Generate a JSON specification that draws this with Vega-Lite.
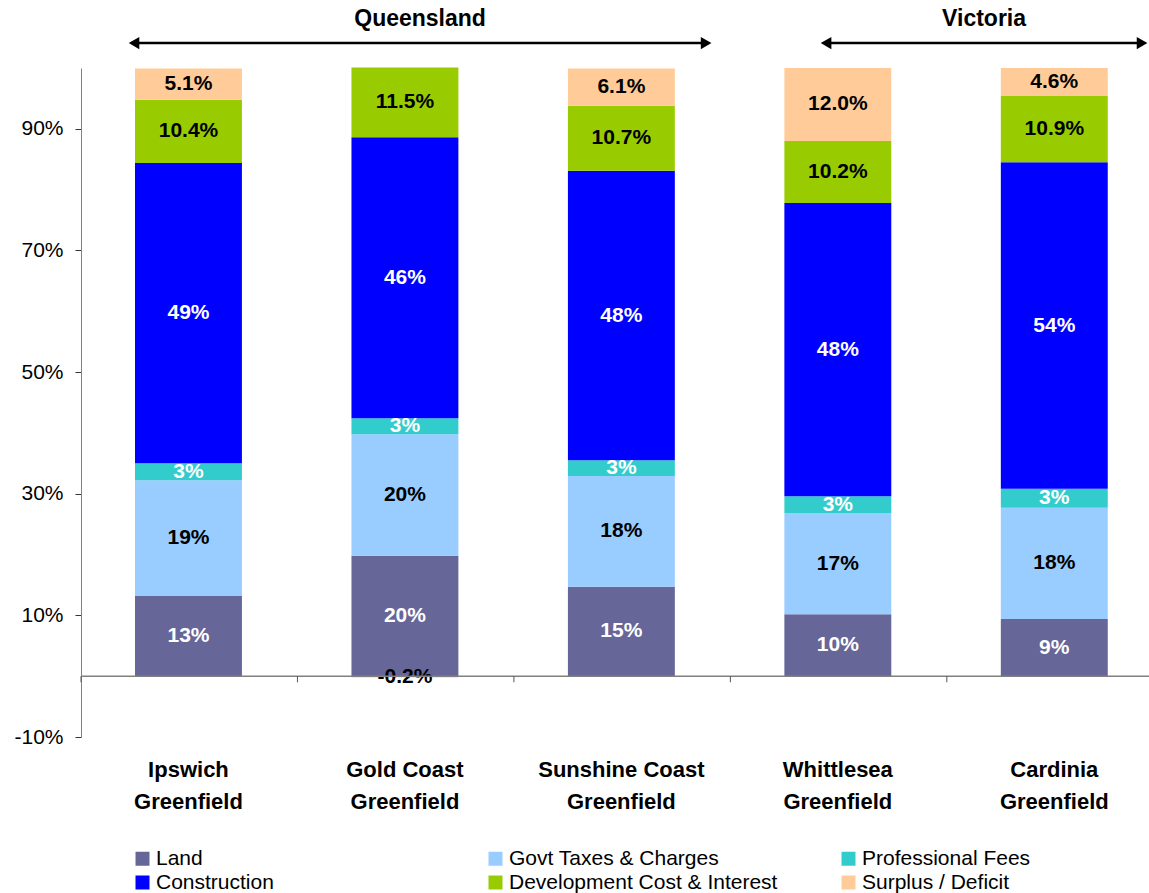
{
  "$schema": "https://vega.github.io/schema/vega-lite/v6.json",
  "width": 1068,
  "height": 669,
  "autosize": {"type": "none"},
  "padding": {"left": 81, "top": 68, "right": 0, "bottom": 156},
  "background": "white",
  "config": {
    "view": {"stroke": null},
    "font": "Liberation Sans",
    "text": {"font": "Liberation Sans"},
    "axis": {"labelFont": "Liberation Sans", "grid": false},
    "locale": {
      "number": {"decimal": ".", "thousands": ",", "grouping": [3], "currency": ["$", ""], "minus": "-"}
    }
  },
  "datasets": {
    "costs": [
      {"region": "Ipswich Greenfield", "component": "Land", "value": 0.132},
      {"region": "Ipswich Greenfield", "component": "Govt Taxes & Charges", "value": 0.190},
      {"region": "Ipswich Greenfield", "component": "Professional Fees", "value": 0.028},
      {"region": "Ipswich Greenfield", "component": "Construction", "value": 0.494},
      {"region": "Ipswich Greenfield", "component": "Development Cost & Interest", "value": 0.104},
      {"region": "Ipswich Greenfield", "component": "Surplus / Deficit", "value": 0.051},
      {"region": "Gold Coast Greenfield", "component": "Land", "value": 0.198},
      {"region": "Gold Coast Greenfield", "component": "Govt Taxes & Charges", "value": 0.200},
      {"region": "Gold Coast Greenfield", "component": "Professional Fees", "value": 0.026},
      {"region": "Gold Coast Greenfield", "component": "Construction", "value": 0.462},
      {"region": "Gold Coast Greenfield", "component": "Development Cost & Interest", "value": 0.115},
      {"region": "Gold Coast Greenfield", "component": "Surplus / Deficit", "value": -0.002},
      {"region": "Sunshine Coast Greenfield", "component": "Land", "value": 0.147},
      {"region": "Sunshine Coast Greenfield", "component": "Govt Taxes & Charges", "value": 0.182},
      {"region": "Sunshine Coast Greenfield", "component": "Professional Fees", "value": 0.026},
      {"region": "Sunshine Coast Greenfield", "component": "Construction", "value": 0.476},
      {"region": "Sunshine Coast Greenfield", "component": "Development Cost & Interest", "value": 0.107},
      {"region": "Sunshine Coast Greenfield", "component": "Surplus / Deficit", "value": 0.061},
      {"region": "Whittlesea Greenfield", "component": "Land", "value": 0.102},
      {"region": "Whittlesea Greenfield", "component": "Govt Taxes & Charges", "value": 0.166},
      {"region": "Whittlesea Greenfield", "component": "Professional Fees", "value": 0.028},
      {"region": "Whittlesea Greenfield", "component": "Construction", "value": 0.482},
      {"region": "Whittlesea Greenfield", "component": "Development Cost & Interest", "value": 0.102},
      {"region": "Whittlesea Greenfield", "component": "Surplus / Deficit", "value": 0.120},
      {"region": "Cardinia Greenfield", "component": "Land", "value": 0.094},
      {"region": "Cardinia Greenfield", "component": "Govt Taxes & Charges", "value": 0.183},
      {"region": "Cardinia Greenfield", "component": "Professional Fees", "value": 0.031},
      {"region": "Cardinia Greenfield", "component": "Construction", "value": 0.537},
      {"region": "Cardinia Greenfield", "component": "Development Cost & Interest", "value": 0.109},
      {"region": "Cardinia Greenfield", "component": "Surplus / Deficit", "value": 0.046}
    ],
    "states": [
      {"state": "Queensland", "from": 0.245, "to": 2.888},
      {"state": "Victoria", "from": 3.442, "to": 4.902}
    ],
    "breaks": [{"pos": 0}, {"pos": 1}, {"pos": 2}, {"pos": 3}, {"pos": 4}]
  },
  "layer": [
    {
      "data": {"name": "costs"},
      "transform": [
        {"calculate": "indexof(['Land','Govt Taxes & Charges','Professional Fees','Construction','Development Cost & Interest','Surplus / Deficit'], datum.component)", "as": "rank"},
        {"stack": "value", "groupby": ["region"], "sort": [{"field": "rank", "order": "ascending"}], "as": ["v0", "v1"]},
        {"calculate": "(datum.v0 + datum.v1) / 2", "as": "mid"}
      ],
      "encoding": {
        "x": {
          "field": "region",
          "type": "nominal",
          "sort": null,
          "title": null,
          "scale": {"paddingInner": 0.506, "paddingOuter": 0.22, "align": 0.567, "round": false},
          "axis": {
            "orient": "bottom",
            "domain": false,
            "ticks": false,
            "labelAngle": 0,
            "labelFontSize": 22,
            "labelFontWeight": "bold",
            "labelColor": "black",
            "labelPadding": 22,
            "labelLineHeight": 32,
            "labelLimit": 400,
            "labelExpr": "[replace(datum.label, ' Greenfield', ''), 'Greenfield']"
          }
        }
      },
      "layer": [
        {
          "mark": {"type": "bar"},
          "encoding": {
            "y": {
              "field": "v0",
              "type": "quantitative",
              "title": null,
              "scale": {"domain": [-0.1, 1.0], "nice": false, "zero": false},
              "axis": {
                "values": [-0.1, 0.1, 0.3, 0.5, 0.7, 0.9],
                "format": ".0%",
                "domainColor": "#808080",
                "domainWidth": 1,
                "tickColor": "#333333",
                "tickSize": 6,
                "labelFontSize": 21,
                "labelColor": "black",
                "labelPadding": 12
              }
            },
            "y2": {"field": "v1"},
            "color": {
              "field": "component",
              "type": "nominal",
              "scale": {
                "domain": ["Land", "Govt Taxes & Charges", "Professional Fees", "Construction", "Development Cost & Interest", "Surplus / Deficit"],
                "range": ["#666699", "#99CCFF", "#33CCCC", "#0000FF", "#99CC00", "#FFCC99"]
              },
              "legend": {
                "orient": "none",
                "legendX": 51,
                "legendY": 780,
                "direction": "horizontal",
                "columns": 3,
                "title": null,
                "symbolType": "square",
                "symbolSize": 196,
                "symbolStrokeWidth": 0,
                "symbolOpacity": 1,
                "labelFontSize": 21,
                "labelColor": "black",
                "labelOffset": 3,
                "columnPadding": 60,
                "rowPadding": 2,
                "gridAlign": "all",
                "labelLimit": 400
              }
            }
          }
        },
        {
          "transform": [{"filter": "datum.rank <= 3"}],
          "mark": {"type": "text", "fontSize": 21, "fontWeight": "bold", "baseline": "middle", "align": "center"},
          "encoding": {
            "y": {"field": "mid", "type": "quantitative", "scale": {"domain": [-0.1, 1.0], "nice": false, "zero": false}},
            "text": {"field": "value", "type": "quantitative", "format": ".0%"},
            "color": {"condition": {"test": "datum.component !== 'Govt Taxes & Charges'", "value": "white"}, "value": "black"}
          }
        },
        {
          "transform": [{"filter": "datum.rank > 3"}],
          "mark": {"type": "text", "fontSize": 21, "fontWeight": "bold", "baseline": "middle", "align": "center", "color": "black"},
          "encoding": {
            "y": {"field": "mid", "type": "quantitative", "scale": {"domain": [-0.1, 1.0], "nice": false, "zero": false}},
            "text": {"field": "value", "type": "quantitative", "format": ".1%"}
          }
        }
      ]
    },
    {
      "data": {"values": [{}]},
      "mark": {"type": "rule", "color": "#808080", "strokeWidth": 1.5},
      "encoding": {
        "y": {"datum": 0, "type": "quantitative", "scale": {"domain": [-0.1, 1.0], "nice": false, "zero": false}}
      }
    },
    {
      "data": {"name": "breaks"},
      "mark": {"type": "rule", "color": "#555555", "strokeWidth": 1},
      "encoding": {
        "x": {"field": "pos", "type": "quantitative", "scale": {"domain": [0, 4.934], "nice": false, "zero": false}, "axis": null},
        "y": {"datum": 0, "type": "quantitative", "scale": {"domain": [-0.1, 1.0], "nice": false, "zero": false}},
        "y2": {"datum": -0.01}
      }
    },
    {
      "data": {"name": "states"},
      "mark": {"type": "rule", "color": "black", "strokeWidth": 2.5},
      "encoding": {
        "x": {"field": "from", "type": "quantitative", "scale": {"domain": [0, 4.934], "nice": false, "zero": false}, "axis": null},
        "x2": {"field": "to"},
        "y": {"datum": 1.041, "type": "quantitative", "scale": {"domain": [-0.1, 1.0], "nice": false, "zero": false}}
      }
    },
    {
      "data": {"name": "states"},
      "mark": {"type": "point", "shape": "triangle-left", "filled": true, "color": "black", "opacity": 1, "size": 150},
      "encoding": {
        "x": {"field": "from", "type": "quantitative", "scale": {"domain": [0, 4.934], "nice": false, "zero": false}, "axis": null},
        "y": {"datum": 1.041, "type": "quantitative", "scale": {"domain": [-0.1, 1.0], "nice": false, "zero": false}}
      }
    },
    {
      "data": {"name": "states"},
      "mark": {"type": "point", "shape": "triangle-right", "filled": true, "color": "black", "opacity": 1, "size": 150},
      "encoding": {
        "x": {"field": "to", "type": "quantitative", "scale": {"domain": [0, 4.934], "nice": false, "zero": false}, "axis": null},
        "y": {"datum": 1.041, "type": "quantitative", "scale": {"domain": [-0.1, 1.0], "nice": false, "zero": false}}
      }
    },
    {
      "data": {"name": "states"},
      "transform": [{"calculate": "(datum.from + datum.to) / 2", "as": "centre"}],
      "mark": {"type": "text", "fontSize": 23, "fontWeight": "bold", "color": "black", "align": "center", "baseline": "middle"},
      "encoding": {
        "x": {"field": "centre", "type": "quantitative", "scale": {"domain": [0, 4.934], "nice": false, "zero": false}, "axis": null},
        "y": {"datum": 1.08, "type": "quantitative", "scale": {"domain": [-0.1, 1.0], "nice": false, "zero": false}},
        "text": {"field": "state"}
      }
    }
  ],
  "resolve": {"scale": {"x": "independent"}}
}
